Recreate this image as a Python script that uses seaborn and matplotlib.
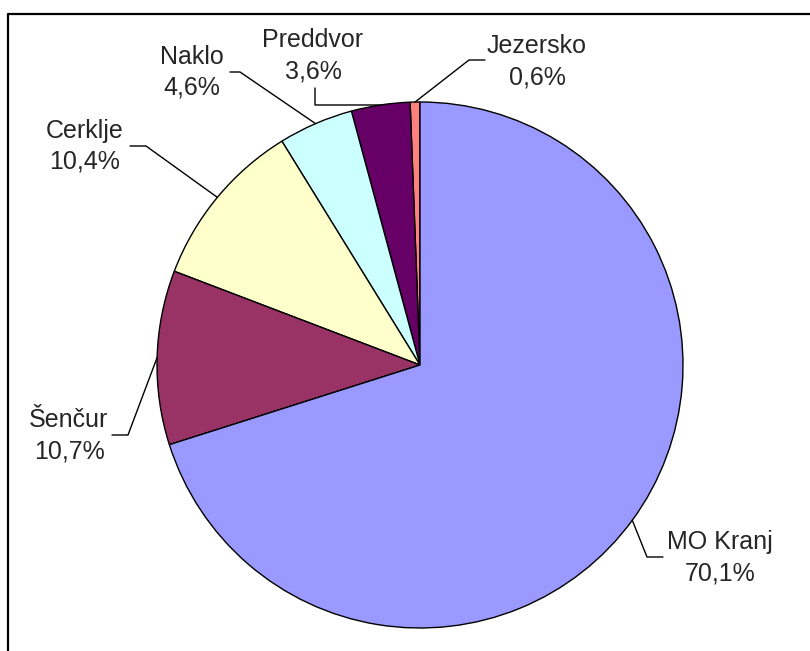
import numpy as np
import matplotlib
matplotlib.use("Agg")
import matplotlib.pyplot as plt
import seaborn as sns

# municipalities, counter-clockwise from 12 o'clock
labels = ['Jezersko', 'Preddvor', 'Naklo', 'Cerklje', 'Šenčur', 'MO Kranj']
shares = [0.6, 3.6, 4.6, 10.4, 10.7, 70.1]
pct_text = ['0,6%', '3,6%', '4,6%', '10,4%', '10,7%', '70,1%']
colors = ['#FF8080', '#660066', '#CCFFFF', '#FFFFCC', '#993366', '#9999FF']

sns.set_theme(style="white")
plt.rcParams['font.family'] = ['Liberation Sans', 'DejaVu Sans']

W, H = 810, 651
fig = plt.figure(figsize=(8.1, 6.51), dpi=100)
ax = fig.add_axes([0, 0, 1, 1])

cx, cy, r = 420, H - 365, 263
wedges, _ = ax.pie(shares, colors=colors, startangle=90, counterclock=True,
                   center=(cx, cy), radius=r,
                   wedgeprops=dict(edgecolor='black', linewidth=1.0))

# label layout: text centre x, leader mid y (pixels from top), elbow points
label_x = [537, 313, 192, 85, 69, 720]
label_y = [61, 55, 72, 146, 435, 557]
elbows = [[(469, 60), (485, 60)],
          [(315, 105), (315, 88)],
          [(240, 72), (230, 72)],
          [(146, 146), (130, 146)],
          [(128, 435), (112, 435)],
          [(647, 557), (663, 557)]]

for w, lx, ly, el, name, pt in zip(wedges, label_x, label_y, elbows, labels, pct_text):
    ang = np.deg2rad((w.theta1 + w.theta2) / 2)
    xs = [cx + r * np.cos(ang)] + [p[0] for p in el]
    ys = [cy + r * np.sin(ang)] + [H - p[1] for p in el]
    ax.plot(xs, ys, color='black', lw=1.0)
    ax.text(lx, H - (ly - 8), name, ha='center', va='baseline', fontsize=18)
    ax.text(lx, H - (ly + 23), pt, ha='center', va='baseline', fontsize=18)

# chart border (only top and left visible)
ax.plot([8, 8, 830], [-20, H - 14, H - 14], color='black', lw=1.6)

ax.set_xlim(0, W)
ax.set_ylim(0, H)
ax.set_aspect('equal')
ax.axis('off')

fig.savefig('out.png', dpi=100, facecolor='white')
